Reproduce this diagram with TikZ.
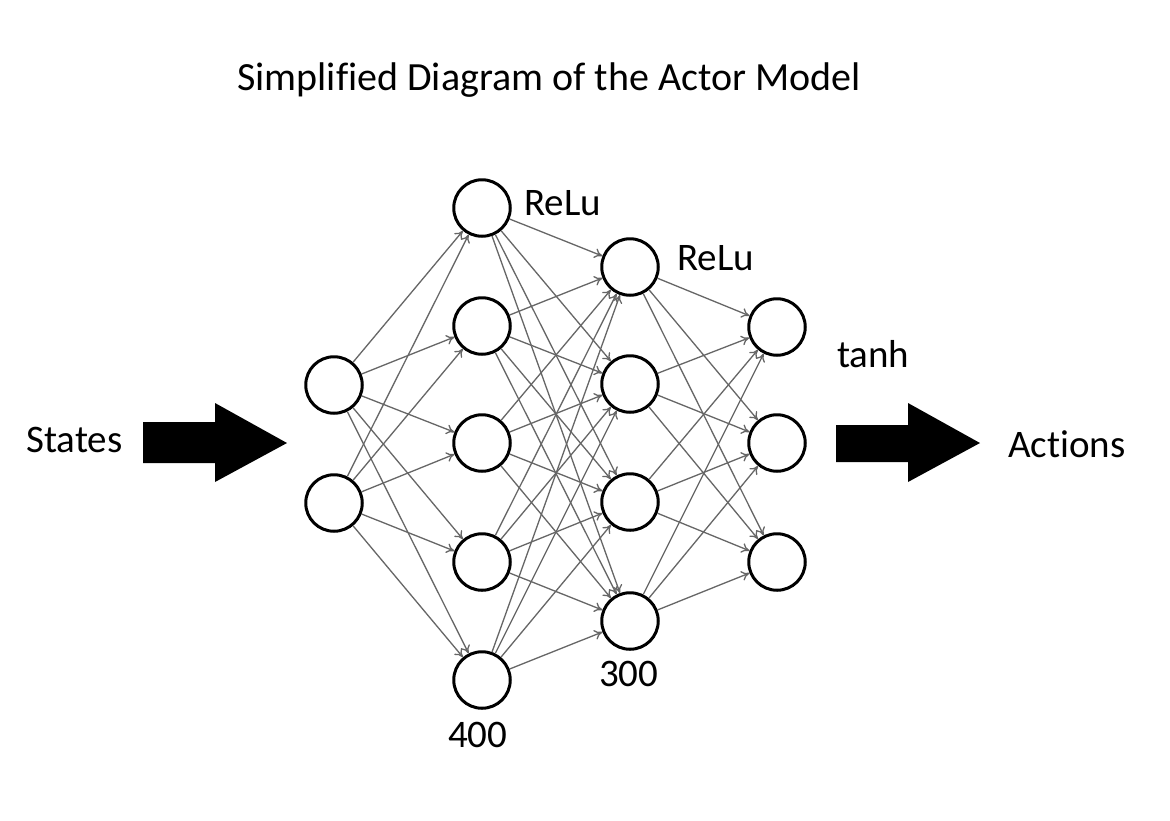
\documentclass[tikz,border=0pt]{standalone}
\usepackage{fontspec}
\setmainfont{Carlito}[Ligatures=NoCommon]
\usetikzlibrary{arrows.meta}
\begin{document}
\begin{tikzpicture}[x=1pt,y=-1pt,
  neuron/.style={circle,draw=black,line width=3pt,minimum size=56.5pt,inner sep=0pt,fill=white},
  edge/.style={draw=black!60,line width=1.3pt,-{To[length=8pt,width=10pt]}},
  lbl/.style={anchor=base west,inner sep=0pt,font=\fontsize{39}{42}\selectfont},
  ttl/.style={anchor=base west,inner sep=0pt,font=\fontsize{40}{44}\selectfont},
  bigarrow/.style={fill=black}]
\useasboundingbox (0,0) rectangle (1170,820);
\fill[white] (0,0) rectangle (1170,820);
% layer 1
\node[neuron] (a1) at (334,385) {};
\node[neuron] (a2) at (334,503) {};
% layer 2
\foreach \i/\y in {1/208,2/326,3/443,4/562,5/680}
  \node[neuron] (b\i) at (482,\y) {};
% layer 3
\foreach \i/\y in {1/267,2/384,3/502,4/621}
  \node[neuron] (c\i) at (630,\y) {};
% layer 4
\foreach \i/\y in {1/327,2/443,3/562}
  \node[neuron] (d\i) at (777,\y) {};
% edges
\foreach \s in {1,2} \foreach \t in {1,...,5} \draw[edge] (a\s) -- (b\t);
\foreach \s in {1,...,5} \foreach \t in {1,...,4} \draw[edge] (b\s) -- (c\t);
\foreach \s in {1,...,4} \foreach \t in {1,2,3} \draw[edge] (c\s) -- (d\t);
% big arrows
\fill[bigarrow] (143,422) -- (215,422) -- (215,403) -- (287,443) -- (215,482) -- (215,463) -- (143,463) -- cycle;
\fill[bigarrow] (836,425) -- (908,425) -- (908,403) -- (980,443) -- (908,482) -- (908,462) -- (836,462) -- cycle;
% labels
\node[ttl] (title) at (237,90) {Simplified Diagram of the Actor Model};
\node[lbl] (states) at (26,452) {States};
\node[lbl] (actions) at (1008,457) {Actions};
\node[lbl] (relu1) at (524,215) {ReLu};
\node[lbl] (relu2) at (677,270) {ReLu};
\node[lbl] (tanh) at (837,367) {tanh};
\node[lbl] (n300) at (599,686) {300};
\node[lbl] (n400) at (448,747) {400};
\end{tikzpicture}
\end{document}
